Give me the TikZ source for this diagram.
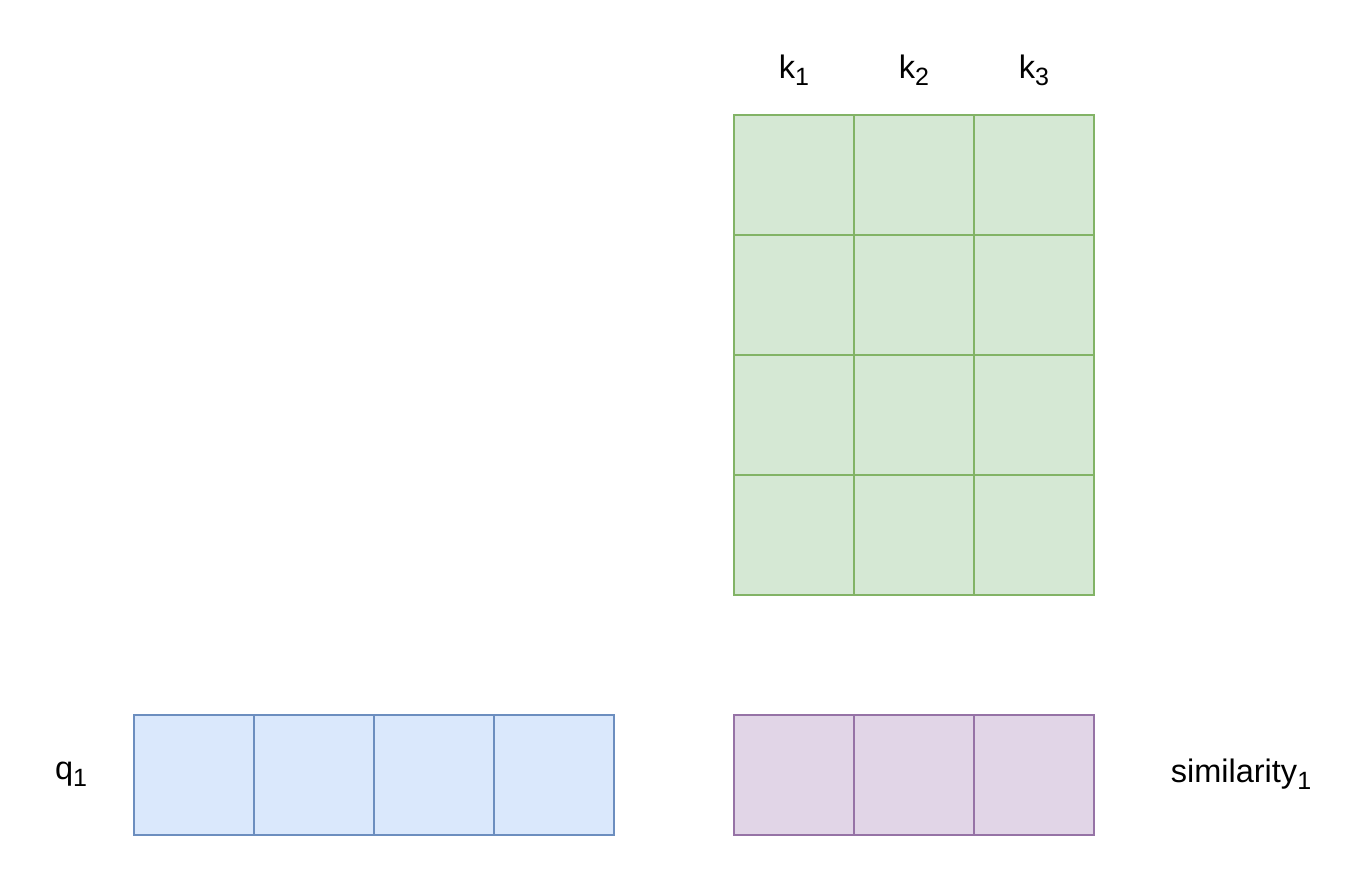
\documentclass[tikz,border=0pt]{standalone}
\usepackage{fontspec}
\setmainfont{Liberation Sans}
\definecolor{gfill}{HTML}{D5E8D4}
\definecolor{gdraw}{HTML}{82B366}
\definecolor{bfill}{HTML}{DAE8FC}
\definecolor{bdraw}{HTML}{6C8EBF}
\definecolor{pfill}{HTML}{E1D5E7}
\definecolor{pdraw}{HTML}{9673A6}
\newcommand{\sbs}[1]{\raisebox{-0.4ex}{\fontsize{25}{27}\selectfont #1}}
\tikzset{
  cell/.style={minimum width=120pt, minimum height=120pt, inner sep=0pt, outer sep=0pt, line width=2pt, anchor=north west},
  gcell/.style={cell, fill=gfill, draw=gdraw},
  bcell/.style={cell, fill=bfill, draw=bdraw},
  pcell/.style={cell, fill=pfill, draw=pdraw},
  lbl/.style={font=\fontsize{32.5}{36}\selectfont, inner sep=0pt}
}
\begin{document}
\begin{tikzpicture}[x=1pt,y=-1pt]
\useasboundingbox (0,0) rectangle (1358,894);
% key matrix
\foreach \r in {0,1,2,3}{
  \foreach \c in {0,1,2}{
    \node[gcell] (g\r\c) at ({734+120*\c},{115+120*\r}) {};
  }
}
% query
\foreach \c in {0,1,2,3}{
  \node[bcell] (b\c) at ({134+120*\c},715) {};
}
% similarity
\foreach \c in {0,1,2}{
  \node[pcell] (p\c) at ({734+120*\c},715) {};
}
\node[lbl] (k1) at (794,70) {k\sbs{1}};
\node[lbl] (k2) at (914,70) {k\sbs{2}};
\node[lbl] (k3) at (1034,70) {k\sbs{3}};
\node[lbl] (q1) at (71,774) {q\sbs{1}};
\node[lbl] (s1) at (1241,774) {similarity\sbs{1}};
\end{tikzpicture}
\end{document}
